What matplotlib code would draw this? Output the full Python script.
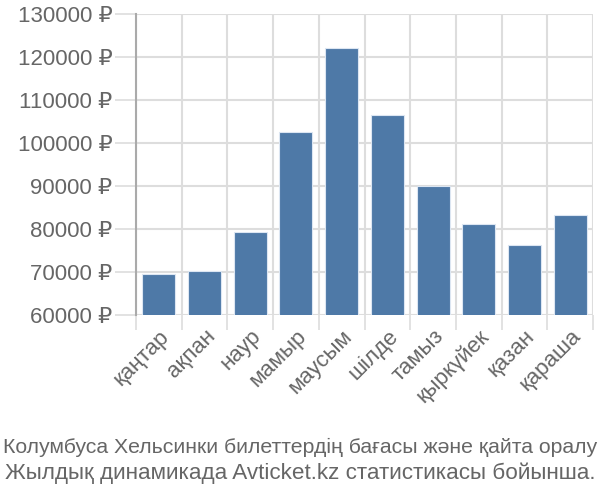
import numpy as np
import matplotlib
matplotlib.use('Agg')
import matplotlib.pyplot as plt
from matplotlib.ticker import FixedLocator

plt.rcParams['font.family'] = ['Liberation Sans', 'DejaVu Sans']

months = ['қаңтар', 'ақпан', 'наур', 'мамыр', 'маусым', 'шілде',
          'тамыз', 'қыркүйек', 'қазан', 'қараша']
prices = [69500, 70200, 79200, 102600, 122200, 106600, 90000, 81200, 76200, 83300]
yticks = [60000, 70000, 80000, 90000, 100000, 110000, 120000, 130000]
caption = ['Колумбуса Хельсинки билеттердің бағасы және қайта оралу',
           'Жылдық динамикада Avticket.kz статистикасы бойынша.']

text_col = '#666666'
grid_col = '#dddddd'

fig = plt.figure(figsize=(6, 5), dpi=100)
ax = fig.add_axes([136/600, 1 - 314.7/500, (593-136)/600, (314.7-14)/500])

x = np.arange(len(months))
ax.bar(x, prices, width=0.72, color='#4e79a7', edgecolor='#dce6f2', linewidth=0.8, zorder=3)

ax.set_xlim(-0.5, len(months) - 0.5)
ax.set_ylim(yticks[0], yticks[-1])

ax.set_yticks(yticks)
ax.set_yticklabels([f'{v} ₽' for v in yticks])
ax.set_xticks(x)
ax.set_xticklabels(months, rotation=45, ha='right', va='top', rotation_mode='anchor')
ax.xaxis.set_minor_locator(FixedLocator(np.arange(-0.5, len(months), 1.0)))

ax.tick_params(axis='x', which='major', length=0, pad=8, labelsize=16, labelcolor=text_col)
ax.tick_params(axis='x', which='minor', length=11, width=1.2, color=grid_col)
ax.tick_params(axis='y', length=15, width=1.2, color=grid_col, pad=2, labelsize=16, labelcolor=text_col)

ax.grid(True, axis='y', which='major', color=grid_col, linewidth=1.5, zorder=0)
ax.grid(True, axis='x', which='minor', color=grid_col, linewidth=1.5, zorder=0)
ax.grid(False, axis='x', which='major')

for s in ['top', 'right', 'bottom']:
    ax.spines[s].set_visible(False)
ax.spines['left'].set_color('#aaaaaa')
ax.spines['left'].set_linewidth(1.5)
ax.spines['left'].set_zorder(4)

fig.text(0.5, 1 - 447/500, caption[0], ha='center', va='center', fontsize=15.3, color=text_col)
fig.text(0.5, 1 - 473/500, caption[1], ha='center', va='center', fontsize=16.2, color=text_col)

fig.savefig('out.png', dpi=100)
